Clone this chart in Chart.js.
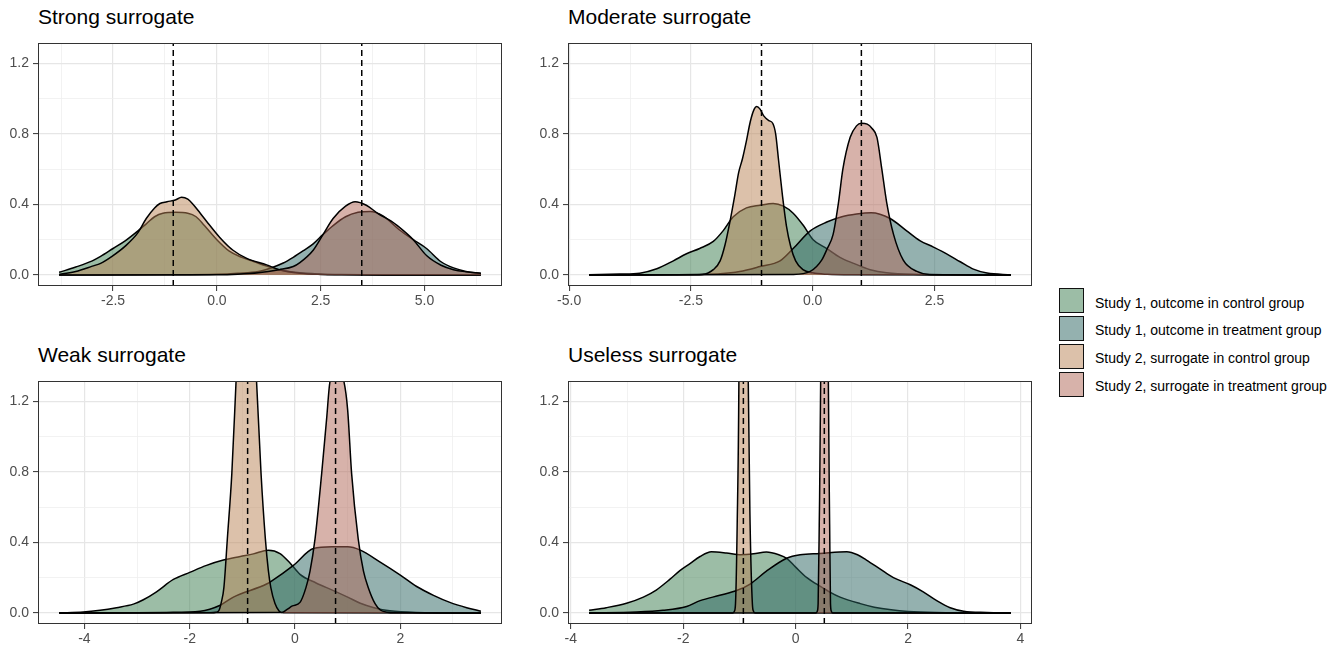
<!DOCTYPE html>
<html><head><meta charset="utf-8">
<script src="https://cdn.jsdelivr.net/npm/chart.js@4.4.1/dist/chart.umd.min.js"></script>
<style>
body{margin:0;background:#fff;width:1344px;height:648px;overflow:hidden;position:relative;font-family:"Liberation Sans",Arial,sans-serif;}
.title{position:absolute;font-size:21px;line-height:21px;color:#000;white-space:nowrap;}
canvas{position:absolute;}
.key{position:absolute;left:1059px;width:23px;height:23px;border:1.5px solid #111;}
.ltxt{position:absolute;left:1095px;font-size:14px;line-height:26px;white-space:nowrap;color:#000;}
</style></head><body>
<div class="title" style="left:38px;top:6px">Strong surrogate</div>
<div class="title" style="left:568px;top:6px">Moderate surrogate</div>
<div class="title" style="left:38px;top:344px">Weak surrogate</div>
<div class="title" style="left:568px;top:344px">Useless surrogate</div>
<div id="legend"></div>
<script>
// ---------- series / legend ----------
const seriesLabels = [
  'Study 1, outcome in control group',
  'Study 1, outcome in treatment group',
  'Study 2, surrogate in control group',
  'Study 2, surrogate in treatment group'
];
const fillColors = ['rgba(58,124,78,0.5)','rgba(42,100,96,0.5)','rgba(185,131,85,0.5)','rgba(175,101,86,0.5)'];

// ---------- Strong surrogate ----------
const strong_s1c_x = [-3.8,-3.4,-3.0,-2.8,-2.5,-2.2,-1.9,-1.7,-1.5,-1.3,-1.0,-0.7,-0.5,-0.3,0.0,0.3,0.6,0.9,1.2,1.5,2.0,2.5,3.0,4.0,5.0,6.36];
const strong_s1c_y = [0.015,0.045,0.08,0.105,0.15,0.195,0.25,0.29,0.33,0.35,0.355,0.35,0.33,0.28,0.2,0.135,0.1,0.075,0.05,0.03,0.012,0.005,0.002,0,0,0];
const strong_s1t_x = [-3.8,-1.0,0.0,0.5,1.0,1.3,1.6,1.84,2.1,2.32,2.56,2.8,3.1,3.4,3.69,4.0,4.4,4.73,5.05,5.4,5.7,6.0,6.36];
const strong_s1t_y = [0,0.001,0.004,0.01,0.02,0.04,0.068,0.1,0.14,0.176,0.23,0.28,0.33,0.355,0.36,0.335,0.255,0.2,0.15,0.075,0.04,0.02,0.008];
const strong_s2c_x = [-3.8,-3.4,-3.0,-2.8,-2.5,-2.2,-1.9,-1.7,-1.5,-1.37,-1.2,-1.0,-0.85,-0.7,-0.57,-0.4,-0.25,0.07,0.39,0.72,1.2,1.5,2.0,2.5,3.0,4.0,6.36];
const strong_s2c_y = [0.003,0.02,0.05,0.066,0.11,0.165,0.24,0.32,0.38,0.405,0.415,0.425,0.44,0.43,0.40,0.35,0.305,0.213,0.14,0.094,0.057,0.03,0.01,0.003,0.001,0,0];
const strong_s2t_x = [-3.8,0.0,0.5,1.0,1.5,1.84,2.0,2.32,2.56,2.8,3.1,3.33,3.6,3.9,4.2,4.5,4.73,5.05,5.4,5.7,6.0,6.36];
const strong_s2t_y = [0,0.001,0.004,0.012,0.03,0.048,0.07,0.14,0.23,0.32,0.39,0.415,0.395,0.345,0.305,0.25,0.2,0.11,0.055,0.03,0.018,0.01];
const strongMeans = [-1.05, 3.49];
const strongMajor = [-2.5, 0, 2.5, 5];
const strongMinor = [-3.75, -1.25, 1.25, 3.75, 6.25];

// ---------- Moderate surrogate ----------
const mod_s1c_x = [-4.59,-3.96,-3.55,-3.2,-2.86,-2.59,-2.32,-2.04,-1.84,-1.63,-1.36,-1.08,-0.81,-0.6,-0.4,-0.19,0.01,0.29,0.56,0.84,1.18,1.52,2.2,3.0,4.07];
const mod_s1c_y = [0.001,0.005,0.01,0.035,0.08,0.12,0.15,0.19,0.25,0.33,0.38,0.395,0.405,0.39,0.35,0.28,0.2,0.15,0.1,0.066,0.03,0.012,0.003,0.001,0];
const mod_s1t_x = [-4.59,-3.0,-2.2,-1.9,-1.5,-1.08,-0.67,-0.4,-0.05,0.29,0.6,0.9,1.2,1.59,1.93,2.2,2.48,2.75,3.03,3.3,3.58,4.07];
const mod_s1t_y = [0,0.001,0.004,0.007,0.02,0.048,0.08,0.15,0.25,0.3,0.33,0.345,0.352,0.32,0.25,0.195,0.158,0.12,0.075,0.033,0.011,0.001];
const mod_s2c_x = [-4.59,-2.6,-2.26,-2.04,-1.9,-1.8,-1.7,-1.6,-1.52,-1.44,-1.36,-1.28,-1.2,-1.15,-1.08,-1.0,-0.9,-0.82,-0.76,-0.7,-0.62,-0.54,-0.45,-0.35,-0.2,0.0,0.3,0.8,4.07];
const mod_s2c_y = [0,0.001,0.003,0.03,0.08,0.17,0.3,0.45,0.58,0.66,0.76,0.87,0.94,0.955,0.94,0.9,0.875,0.86,0.8,0.65,0.45,0.28,0.16,0.08,0.03,0.012,0.004,0.001,0];
const mod_s2t_x = [-4.59,-0.4,-0.05,0.185,0.3,0.42,0.53,0.62,0.77,0.9,1.0,1.12,1.22,1.32,1.42,1.52,1.66,1.86,2.14,2.4,4.07];
const mod_s2t_y = [0,0.003,0.02,0.084,0.15,0.23,0.41,0.6,0.78,0.845,0.86,0.855,0.83,0.78,0.6,0.41,0.23,0.084,0.02,0.003,0];
const modMeans = [-1.05, 1.0];
const modMajor = [-5, -2.5, 0, 2.5];
const modMinor = [-3.75, -1.25, 1.25, 3.75];

// ---------- Weak surrogate ----------
const weak_s1c_x = [-4.48,-4.02,-3.7,-3.39,-3.07,-2.88,-2.63,-2.31,-2.0,-1.68,-1.36,-1.04,-0.79,-0.51,-0.285,-0.095,0.095,0.4,0.73,1.0,1.24,1.5,1.8,2.3,3.53];
const weak_s1c_y = [0.001,0.005,0.015,0.03,0.05,0.075,0.12,0.19,0.23,0.27,0.3,0.32,0.335,0.356,0.337,0.283,0.219,0.17,0.127,0.09,0.055,0.03,0.012,0.003,0];
const weak_s1t_x = [-4.48,-3.0,-2.44,-1.8,-1.42,-1.17,-0.54,-0.44,-0.03,0.35,0.7,1.0,1.24,1.61,2.0,2.31,2.63,2.94,3.26,3.53];
const weak_s1t_y = [0,0.001,0.003,0.01,0.044,0.09,0.164,0.182,0.27,0.365,0.375,0.375,0.356,0.29,0.215,0.15,0.1,0.06,0.03,0.01];
const weak_s2c_x = [-4.48,-1.6,-1.5,-1.44,-1.4,-1.35,-1.285,-1.2,-1.12,-1.05,-0.92,-0.8,-0.73,-0.645,-0.563,-0.506,-0.46,-0.38,-0.3,-0.22,3.53];
const weak_s2c_y = [0,0.001,0.004,0.017,0.06,0.145,0.42,0.79,1.31,1.75,2.2,1.8,1.31,0.79,0.42,0.24,0.145,0.053,0.01,0.001,0];
const weak_s2t_x = [-4.48,-0.25,-0.15,-0.05,0.095,0.209,0.285,0.38,0.506,0.6,0.664,0.8,0.93,1.0,1.075,1.2,1.3,1.39,1.52,1.62,1.75,1.9,3.53];
const weak_s2t_y = [0,0.002,0.02,0.04,0.06,0.145,0.237,0.42,0.79,1.1,1.31,1.37,1.31,1.15,0.79,0.42,0.237,0.145,0.053,0.017,0.004,0.001,0];
const weakMeans = [-0.9, 0.77];
const weakMajor = [-4, -2, 0, 2];
const weakMinor = [-3, -1, 1, 3];

// ---------- Useless surrogate ----------
const use_s1c_x = [-3.675,-3.37,-3.01,-2.71,-2.48,-2.24,-2.06,-1.88,-1.7,-1.5,-1.23,-0.99,-0.75,-0.52,-0.3,-0.16,0.0,0.2,0.375,0.6,0.79,1.15,1.4,1.7,2.0,2.5,3.83];
const use_s1c_y = [0.015,0.03,0.055,0.09,0.13,0.19,0.24,0.28,0.32,0.347,0.34,0.33,0.335,0.345,0.33,0.31,0.26,0.2,0.163,0.12,0.09,0.053,0.033,0.018,0.009,0.003,0];
const use_s1t_x = [-3.675,-2.83,-2.36,-1.94,-1.7,-1.35,-1.05,-0.81,-0.52,-0.16,0.08,0.43,0.91,1.1,1.26,1.5,1.74,2.04,2.27,2.51,2.75,2.99,3.4,3.83];
const use_s1t_y = [0,0.005,0.015,0.037,0.07,0.1,0.127,0.164,0.237,0.31,0.33,0.337,0.347,0.33,0.3,0.25,0.2,0.16,0.12,0.07,0.03,0.01,0.003,0];
const use_s2c_x = [-3.675,-1.12,-1.09,-1.07,-1.04,-1.01,-0.98,-0.93,-0.88,-0.843,-0.81,-0.77,-0.75,-0.72,3.83];
const use_s2c_y = [0,0,0.01,0.053,0.5,1.31,3.5,6.5,3.5,1.31,0.5,0.053,0.01,0,0];
const use_s2t_x = [-3.675,0.36,0.385,0.40,0.42,0.445,0.47,0.513,0.555,0.582,0.605,0.62,0.635,0.66,3.83];
const use_s2t_y = [0,0,0.01,0.053,0.5,1.31,3.5,6.5,3.5,1.31,0.5,0.053,0.01,0,0];
const useMeans = [-0.93, 0.51];
const useMajor = [-4, -2, 0, 2, 4];
const useMinor = [-3, -1, 1, 3];

// ---------- y axis ----------
const yLimits = [0, 1.25];
const yMajor = [0, 0.4, 0.8, 1.2];
const yMinor = [0.2, 0.6, 1.0];

const panels = [
  {left:38, top:37, dec:1, means:strongMeans, major:strongMajor, minor:strongMinor,
   series:[[strong_s1c_x,strong_s1c_y],[strong_s1t_x,strong_s1t_y],[strong_s2c_x,strong_s2c_y],[strong_s2t_x,strong_s2t_y]]},
  {left:568, top:37, dec:1, means:modMeans, major:modMajor, minor:modMinor,
   series:[[mod_s1c_x,mod_s1c_y],[mod_s1t_x,mod_s1t_y],[mod_s2c_x,mod_s2c_y],[mod_s2t_x,mod_s2t_y]]},
  {left:38, top:375, dec:0, means:weakMeans, major:weakMajor, minor:weakMinor,
   series:[[weak_s1c_x,weak_s1c_y],[weak_s1t_x,weak_s1t_y],[weak_s2c_x,weak_s2c_y],[weak_s2t_x,weak_s2t_y]]},
  {left:568, top:375, dec:0, means:useMeans, major:useMajor, minor:useMinor,
   series:[[use_s1c_x,use_s1c_y],[use_s1t_x,use_s1t_y],[use_s2c_x,use_s2c_y],[use_s2t_x,use_s2t_y]]}
];

Chart.defaults.font.family = '"Liberation Sans", Arial, sans-serif';
Chart.defaults.font.size = 14;
Chart.defaults.color = '#4d4d4d';

const PW = 464, PH = 249, YAW = 38, PADT = 6, XAH = 30, PADR = 10;
const near = (a, b) => Math.abs(a - b) < 1e-9;

function makeChart(p) {
  const W = YAW + PW + PADR, H = PADT + PH + XAH;
  const cv = document.createElement('canvas');
  cv.width = W; cv.height = H;
  cv.style.width = W + 'px'; cv.style.height = H + 'px';
  cv.style.left = (p.left - YAW) + 'px'; cv.style.top = (p.top - PADT) + 'px';
  document.body.appendChild(cv);

  const allX = p.series.flatMap(s => s[0]);
  const xmin = Math.min(...allX), xmax = Math.max(...allX), R = xmax - xmin;
  const yR = yLimits[1] - yLimits[0];
  const xIsMajor = v => p.major.some(m => near(m, v));
  const yIsMajor = v => yMajor.some(m => near(m, v));
  const xTicks = [...p.major, ...p.minor].sort((a, b) => a - b);
  const yTicks = [...yMajor, ...yMinor].sort((a, b) => a - b);

  const datasets = p.series.map((s, i) => ({
    label: seriesLabels[i],
    data: s[0].map((x, j) => ({x: x, y: s[1][j]})),
    borderColor: '#000', borderWidth: 1.5,
    backgroundColor: fillColors[i], fill: 'origin',
    pointRadius: 0, pointHoverRadius: 0,
    cubicInterpolationMode: 'monotone', capBezierPoints: false,
    order: 4 - i
  }));

  const overlay = {
    id: 'overlay',
    afterDatasetsDraw(chart) {
      const {ctx, chartArea: a} = chart; const xs = chart.scales.x;
      ctx.save();
      ctx.beginPath(); ctx.rect(a.left, a.top, a.right - a.left, a.bottom - a.top); ctx.clip();
      ctx.setLineDash([6, 4]); ctx.lineWidth = 1.5; ctx.strokeStyle = '#000';
      p.means.forEach(m => {
        const px = xs.getPixelForValue(m);
        ctx.beginPath(); ctx.moveTo(px, a.bottom); ctx.lineTo(px, a.top); ctx.stroke();
      });
      ctx.restore();
    },
    afterDraw(chart) {
      const {ctx, chartArea: a} = chart;
      ctx.save(); ctx.strokeStyle = '#333333'; ctx.lineWidth = 1;
      ctx.strokeRect(Math.round(a.left) + 0.5, Math.round(a.top) + 0.5, Math.round(a.right - a.left) - 1, Math.round(a.bottom - a.top) - 1);
      ctx.restore();
    }
  };

  const gridOpts = isMaj => ({
    color: c => (c.tick && isMaj(c.tick.value)) ? '#e6e6e6' : '#efefef',
    lineWidth: c => (c.tick && isMaj(c.tick.value)) ? 1.2 : 0.8,
    tickColor: c => (c.tick && isMaj(c.tick.value)) ? '#333333' : 'rgba(0,0,0,0)',
    tickWidth: 1, tickLength: 5, drawTicks: true
  });

  new Chart(cv, {
    type: 'line',
    data: {datasets},
    plugins: [overlay],
    options: {
      responsive: false, animation: false, devicePixelRatio: window.devicePixelRatio || 1,
      layout: {padding: {top: PADT, right: PADR, left: 0, bottom: 0}},
      plugins: {legend: {display: false}, tooltip: {enabled: false}},
      events: [],
      scales: {
        x: {
          type: 'linear', min: xmin - 0.05 * R, max: xmax + 0.05 * R,
          afterBuildTicks: sc => { sc.ticks = xTicks.map(v => ({value: v})); },
          afterFit: sc => { sc.height = XAH; },
          ticks: {autoSkip: false, maxRotation: 0, padding: 2, color: '#4d4d4d',
                  callback: v => xIsMajor(v) ? v.toFixed(p.dec) : ''},
          grid: gridOpts(xIsMajor),
          border: {display: false}
        },
        y: {
          type: 'linear', min: yLimits[0] - 0.05 * yR, max: yLimits[1] + 0.05 * yR,
          afterBuildTicks: sc => { sc.ticks = yTicks.map(v => ({value: v})); },
          afterFit: sc => { sc.width = YAW; },
          ticks: {autoSkip: false, padding: 4, color: '#4d4d4d',
                  callback: v => yIsMajor(v) ? v.toFixed(1) : ''},
          grid: gridOpts(yIsMajor),
          border: {display: false}
        }
      }
    }
  });
}
panels.forEach(makeChart);

// ---------- legend ----------
const lg = document.getElementById('legend');
seriesLabels.forEach((lab, i) => {
  const top = 288 + i * 27.9;
  const k = document.createElement('div');
  k.className = 'key'; k.style.top = top + 'px'; k.style.background = fillColors[i];
  lg.appendChild(k);
  const t = document.createElement('div');
  t.className = 'ltxt'; t.style.top = (top + 1.5) + 'px'; t.textContent = lab;
  lg.appendChild(t);
});
</script>
</body></html>
